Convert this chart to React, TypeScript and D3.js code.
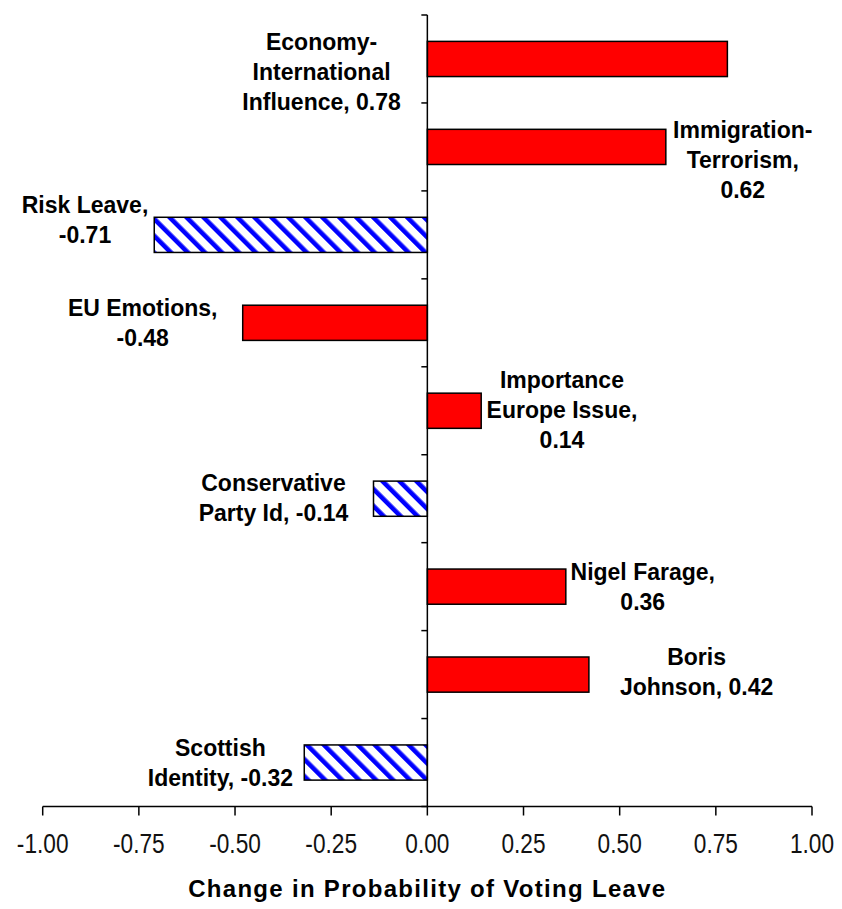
import React from "react";
import * as d3 from "d3";

const categories = [
  "Economy-International Influence",
  "Immigration-Terrorism",
  "Risk Leave",
  "EU Emotions",
  "Importance Europe Issue",
  "Conservative Party Id",
  "Nigel Farage",
  "Boris Johnson",
  "Scottish Identity",
];
const values = [0.78, 0.62, -0.71, -0.48, 0.14, -0.14, 0.36, 0.42, -0.32];
const hatched = [false, false, true, false, false, true, false, false, true];
const labelLines = [
  ["Economy-", "International", "Influence, 0.78"],
  ["Immigration-", "Terrorism,", "0.62"],
  ["Risk Leave,", "-0.71"],
  ["EU Emotions,", "-0.48"],
  ["Importance", "Europe Issue,", "0.14"],
  ["Conservative", "Party Id, -0.14"],
  ["Nigel Farage,", "0.36"],
  ["Boris", "Johnson, 0.42"],
  ["Scottish", "Identity, -0.32"],
];
// label anchor in data units (x) and first-line offset relative to band top (y, rows)
const labelX = [-0.275, 0.82, -0.89, -0.74, 0.35, -0.4, 0.56, 0.7, -0.538];
const labelDY = [0.0, -0.005, -0.15, 0.02, -0.16, 0.01, 0.02, -0.015, 0.02];
const xTicks = [-1, -0.75, -0.5, -0.25, 0, 0.25, 0.5, 0.75, 1];
const xTitle = "Change in Probability of Voting Leave";

const W = 842;
const H = 909;
const left = 42.7;
const right = 812;
const top = 15;
const bottom = 806.5;

export default function App() {
  const x = d3.scaleLinear().domain([-1, 1]).range([left, right]);
  const y = d3
    .scaleBand<string>()
    .domain(categories)
    .range([top, bottom])
    .paddingInner(0.6)
    .paddingOuter(0.3);
  const step = y.step();
  const x0 = x(0);
  const lineH = 30;
  const font = "'Liberation Sans', Arial, sans-serif";
  const fmt = (t: number) => d3.format(".2f")(t).replace("\u2212", "-");

  return (
    <svg
      width={W}
      height={H}
      style={{ position: "absolute", left: 0, top: 0, background: "#fff" }}
    >
      <defs>
        <pattern
          id="hatch"
          patternUnits="userSpaceOnUse"
          width={12}
          height={12}
          patternTransform="rotate(-45)"
        >
          <rect width={12} height={12} fill="#fff" />
          <rect x={0} y={0} width={4.6} height={12} fill="#0000FF" />
        </pattern>
      </defs>
      <rect width={W} height={H} fill="#fff" />

      {/* bars */}
      {categories.map((c, i) => {
        const v = values[i];
        const bx = Math.min(x(v), x0);
        const bw = Math.abs(x(v) - x0);
        return (
          <rect
            key={c}
            x={bx}
            y={y(c)}
            width={bw}
            height={y.bandwidth()}
            fill={hatched[i] ? "url(#hatch)" : "#FF0000"}
            stroke="#000"
            strokeWidth={1.5}
          />
        );
      })}

      {/* vertical axis */}
      <line x1={x0} x2={x0} y1={top} y2={bottom} stroke="#000" strokeWidth={1.5} />
      {d3.range(categories.length + 1).map((k) => (
        <line
          key={k}
          x1={x0 - 6}
          x2={x0}
          y1={top + k * step}
          y2={top + k * step}
          stroke="#000"
          strokeWidth={1.5}
        />
      ))}

      {/* horizontal axis */}
      <line x1={left} x2={right} y1={bottom} y2={bottom} stroke="#000" strokeWidth={1.5} />
      {xTicks.map((t) => (
        <g key={t}>
          <line x1={x(t)} x2={x(t)} y1={bottom} y2={bottom + 9} stroke="#000" strokeWidth={1.5} />
          <text
            transform={`translate(${x(t)},853) scale(0.84,1)`}
            textAnchor="middle"
            fontFamily={font}
            fontSize={27}
            fill="#111"
          >
            {fmt(t)}
          </text>
        </g>
      ))}

      {/* axis title */}
      <text
        x={x(0)}
        y={897}
        textAnchor="middle"
        fontFamily={font}
        fontWeight="bold"
        fontSize={24}
        letterSpacing={1.3}
        fill="#000"
      >
        {xTitle}
      </text>

      {/* data labels */}
      {categories.map((c, i) => {
        const lines = labelLines[i];
        const y0 = (y(c) as number) + labelDY[i] * step + 9;
        return (
          <text
            key={"l" + c}
            textAnchor="middle"
            fontFamily={font}
            fontWeight="bold"
            fontSize={23}
            fill="#000"
          >
            {lines.map((ln, j) => (
              <tspan key={j} x={x(labelX[i])} y={y0 + j * lineH}>
                {ln}
              </tspan>
            ))}
          </text>
        );
      })}
    </svg>
  );
}
